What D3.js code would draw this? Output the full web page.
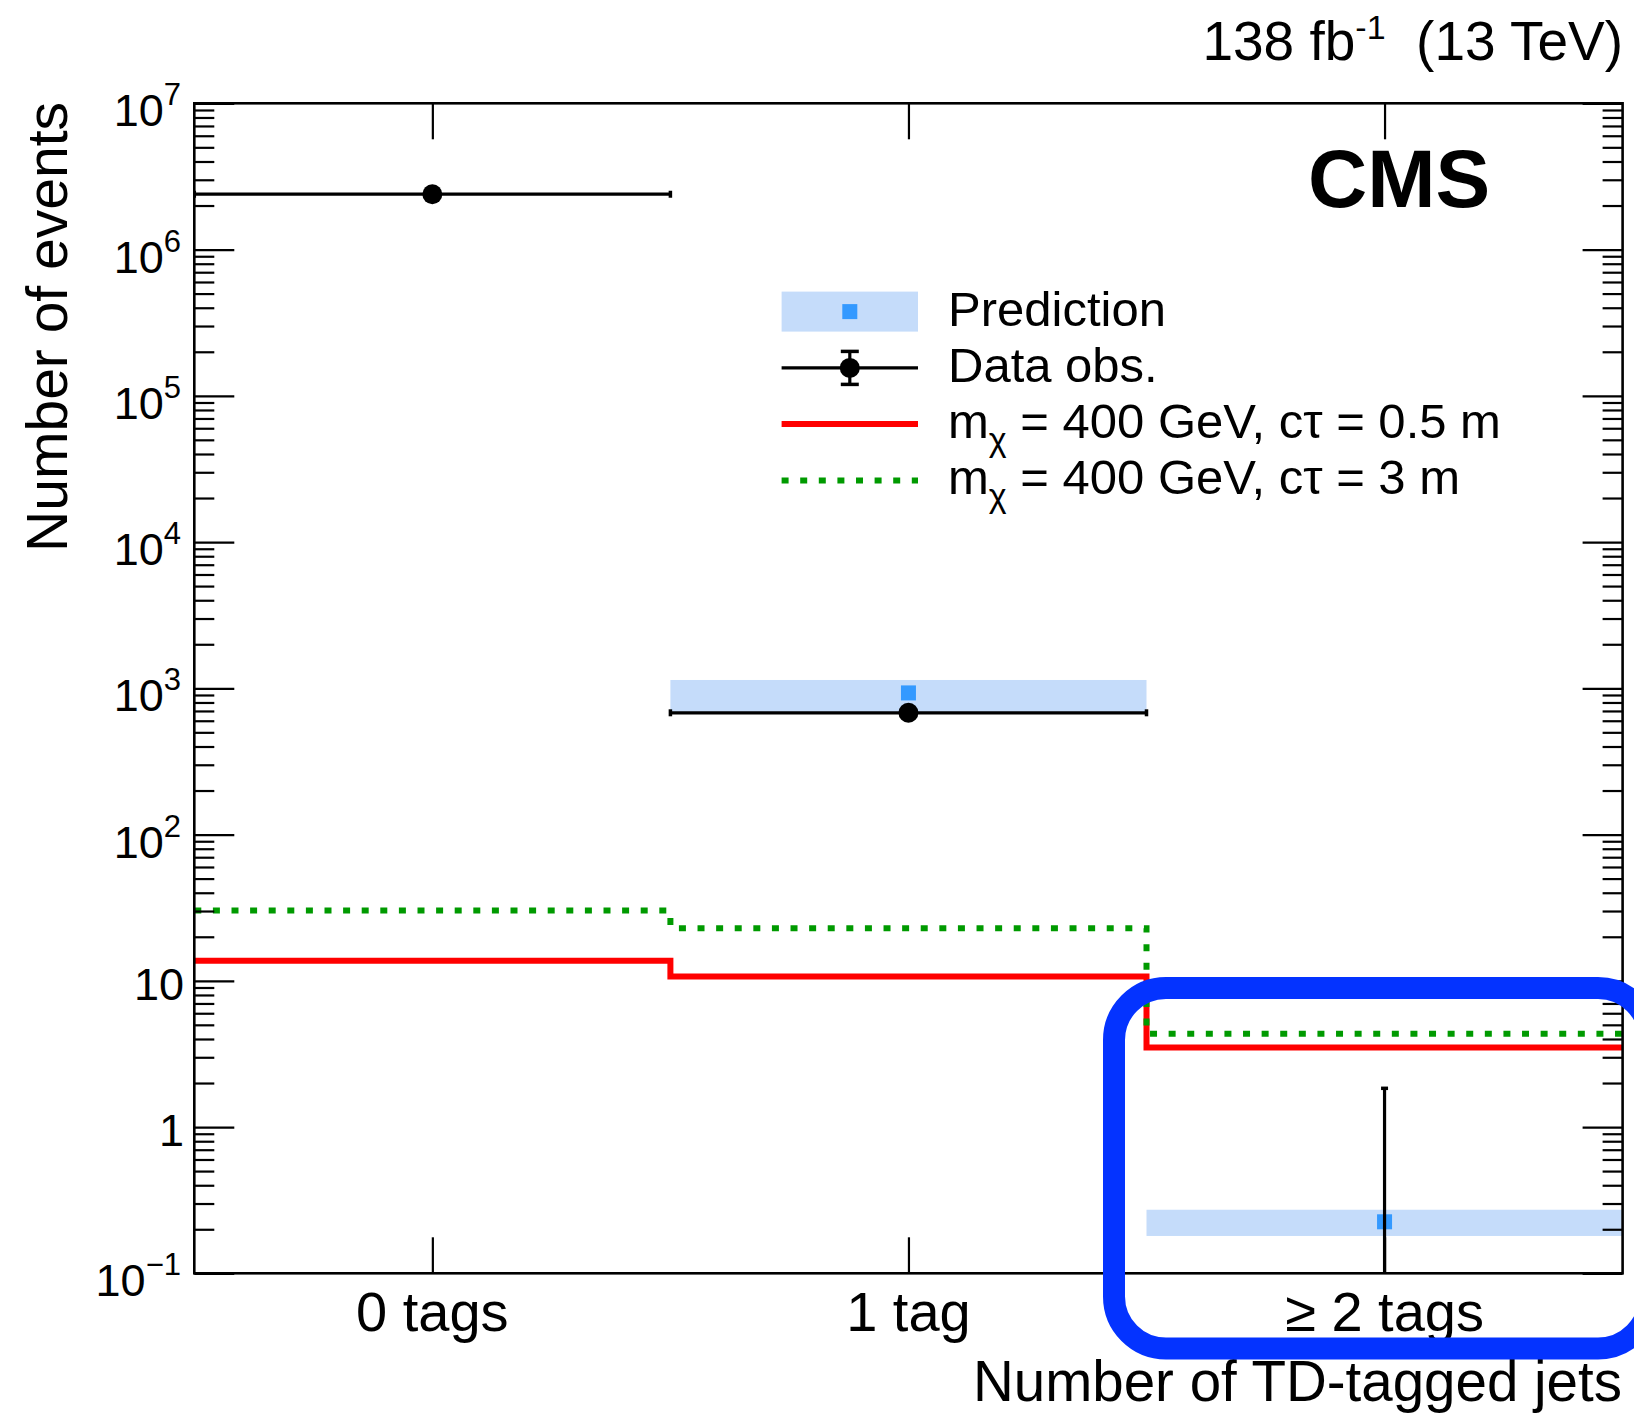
<!DOCTYPE html>
<html>
<head>
<meta charset="utf-8">
<script src="https://cdn.jsdelivr.net/npm/d3@7"></script>
<style>
  html, body { margin: 0; padding: 0; background: #fff; }
  svg { display: block; }
  text { font-family: "Liberation Sans", Arial, Helvetica, sans-serif; fill: #000; }
</style>
</head>
<body>
<svg id="chart" width="1634" height="1417"></svg>
<script>
// ---- data -------------------------------------------------------------
const categories = ["0 tags", "1 tag", "\u2265 2 tags"];

// observed events per bin, with asymmetric (Poisson) uncertainties
const dataObs    = [2390000, 680, 0];
const dataErrLo  = [1546, 26, 0];
const dataErrHi  = [1546, 26, 1.84];

// background prediction (no prediction in the 0-tag control bin)
const predicted  = [null, 930, 0.225];
const predLow    = [null, 690, 0.18];
const predHigh   = [null, 1140, 0.272];

// signal expectations, m_chi = 400 GeV
const sigCt05 = [13.7, 10.7, 3.5];   // c*tau = 0.5 m
const sigCt3  = [30.2, 22.9, 4.35];  // c*tau = 3 m

const yMajorTicks = [0.1, 1, 10, 1e2, 1e3, 1e4, 1e5, 1e6, 1e7];
const yTickLabels = [["10", "\u22121"], ["1", null], ["10", null], ["10", "2"], ["10", "3"],
                     ["10", "4"], ["10", "5"], ["10", "6"], ["10", "7"]];

// ---- layout -----------------------------------------------------------
const svg = d3.select("#chart");
const frame = { left: 194.3, right: 1622.6, top: 103.3, bottom: 1273.3 };

const x = d3.scaleBand().domain(categories).range([frame.left, frame.right]).padding(0);
const y = d3.scaleLog().domain([0.1, 1e7]).range([frame.bottom, frame.top]);

const colRed = "#ff0000", colGreen = "#009a00", colBand = "#c5dcfa", colPred = "#3399ff";

const g = svg.append("g");

// clip everything to the frame
svg.append("defs").append("clipPath").attr("id", "plotclip")
  .append("rect").attr("x", frame.left).attr("y", frame.top)
  .attr("width", frame.right - frame.left).attr("height", frame.bottom - frame.top);
const plot = g.append("g").attr("clip-path", "url(#plotclip)");

// ---- prediction bands and markers ---------------------------------------
const predIdx = d3.range(categories.length).filter(i => predicted[i] != null);
plot.selectAll("rect.band").data(predIdx).join("rect")
  .attr("class", "band")
  .attr("x", i => x(categories[i]))
  .attr("width", x.bandwidth())
  .attr("y", i => y(predHigh[i]))
  .attr("height", i => y(predLow[i]) - y(predHigh[i]))
  .attr("fill", colBand);
plot.selectAll("rect.pred").data(predIdx).join("rect")
  .attr("class", "pred")
  .attr("x", i => x(categories[i]) + x.bandwidth() / 2 - 7.5)
  .attr("y", i => y(predicted[i]) - 7.5)
  .attr("width", 15).attr("height", 15)
  .attr("fill", colPred);

// ---- observed data ------------------------------------------------------
const dataIdx = d3.range(categories.length);
const yc = v => (v > 0 ? y(v) : frame.bottom + 20);
// horizontal bin-width bars (only where the point is inside the range)
dataIdx.filter(i => dataObs[i] > 0).forEach(i => {
  const x0 = x(categories[i]), x1 = x0 + x.bandwidth(), yy = y(dataObs[i]);
  plot.append("line").attr("x1", x0).attr("x2", x1).attr("y1", yy).attr("y2", yy)
    .attr("stroke", "#000").attr("stroke-width", 3.2);
  [x0, x1].forEach(xx => plot.append("line").attr("x1", xx).attr("x2", xx)
    .attr("y1", yy - 3.5).attr("y2", yy + 3.5).attr("stroke", "#000").attr("stroke-width", 3.5));
});
// vertical error bars
dataIdx.forEach(i => {
  const xm = x(categories[i]) + x.bandwidth() / 2;
  const lo = dataObs[i] - dataErrLo[i], hi = dataObs[i] + dataErrHi[i];
  plot.append("line").attr("x1", xm).attr("x2", xm)
    .attr("y1", yc(lo)).attr("y2", y(hi)).attr("stroke", "#000").attr("stroke-width", 3.2);
  plot.append("line").attr("x1", xm - 3.5).attr("x2", xm + 3.5)
    .attr("y1", y(hi)).attr("y2", y(hi)).attr("stroke", "#000").attr("stroke-width", 3.5);
});
plot.selectAll("circle.obs").data(dataIdx.filter(i => dataObs[i] > 0)).join("circle")
  .attr("class", "obs")
  .attr("cx", i => x(categories[i]) + x.bandwidth() / 2)
  .attr("cy", i => y(dataObs[i]))
  .attr("r", 10).attr("fill", "#000");

// ---- signal histograms (step outlines) ----------------------------------
function stepPoints(vals) {
  const pts = [];
  vals.forEach((v, i) => {
    const x0 = x(categories[i]), x1 = x0 + x.bandwidth();
    pts.push([x0, y(v)], [x1, y(v)]);
  });
  return pts;
}
const line = d3.line();
plot.append("path").attr("d", line(stepPoints(sigCt05)))
  .attr("fill", "none").attr("stroke", colRed).attr("stroke-width", 6);
plot.append("path").attr("d", line(stepPoints(sigCt3)))
  .attr("fill", "none").attr("stroke", colGreen).attr("stroke-width", 6)
  .attr("stroke-dasharray", "7,11.6");

// ---- axes (ROOT style: ticks inside the frame) --------------------------
const minorTicks = [];
for (let e = -1; e < 7; e++) for (let k = 2; k <= 9; k++) minorTicks.push(k * Math.pow(10, e));

function styleAxis(sel) {
  sel.select(".domain").remove();
  sel.selectAll(".tick line").attr("stroke", "#000").attr("stroke-width", 2.2);
  sel.selectAll(".tick text").remove();
}
const axL = g.append("g").attr("transform", `translate(${frame.left},0)`);
axL.call(d3.axisLeft(y).tickValues(yMajorTicks).tickSize(-40).tickFormat(() => "")).call(styleAxis);
g.append("g").attr("transform", `translate(${frame.left},0)`)
  .call(d3.axisLeft(y).tickValues(minorTicks).tickSize(-20).tickFormat(() => "")).call(styleAxis);
g.append("g").attr("transform", `translate(${frame.right},0)`)
  .call(d3.axisRight(y).tickValues(yMajorTicks).tickSize(-40).tickFormat(() => "")).call(styleAxis);
g.append("g").attr("transform", `translate(${frame.right},0)`)
  .call(d3.axisRight(y).tickValues(minorTicks).tickSize(-20).tickFormat(() => "")).call(styleAxis);

const xc = d3.scalePoint().domain(categories)
  .range([x(categories[0]) + x.bandwidth() / 2, x(categories[2]) + x.bandwidth() / 2]);
const axB = g.append("g").attr("transform", `translate(0,${frame.bottom})`);
axB.call(d3.axisBottom(xc).tickSize(-36)).call(styleAxis);
g.append("g").attr("transform", `translate(0,${frame.top})`)
  .call(d3.axisTop(xc).tickSize(-36)).call(styleAxis);

// y tick labels: 10^n with superscripts
yMajorTicks.forEach((v, i) => {
  const [base, sup] = yTickLabels[i];
  const t = g.append("text").attr("text-anchor", "end")
    .attr("x", sup ? 181 : 184).attr("y", y(v) + (sup ? 23 : 19)).attr("font-size", 45);
  t.append("tspan").text(base);
  if (sup) t.append("tspan").attr("dy", -21).attr("font-size", 31).text(sup);
});

// x tick labels
categories.forEach(c => {
  g.append("text").attr("text-anchor", "middle").attr("font-size", 56)
    .attr("x", xc(c)).attr("y", 1331).text(c);
});

// frame
g.append("rect").attr("x", frame.left).attr("y", frame.top)
  .attr("width", frame.right - frame.left).attr("height", frame.bottom - frame.top)
  .attr("fill", "none").attr("stroke", "#000").attr("stroke-width", 2.6);

// axis titles
g.append("text").attr("text-anchor", "end").attr("font-size", 56.5)
  .attr("x", 1622).attr("y", 1401).text("Number of TD-tagged jets");
g.append("text").attr("text-anchor", "end").attr("font-size", 57)
  .attr("transform", "translate(67,102) rotate(-90)").text("Number of events");

// header
const lumi = g.append("text").attr("text-anchor", "end").attr("font-size", 55)
  .attr("x", 1623).attr("y", 60);
lumi.append("tspan").text("138 fb");
lumi.append("tspan").attr("font-size", 34).attr("dy", -21).text("-1");
lumi.append("tspan").attr("dy", 21).text("\u00a0 (13 TeV)");

g.append("text").attr("font-size", 82).attr("font-weight", "bold")
  .attr("x", 1308).attr("y", 207).text("CMS");

// ---- legend -------------------------------------------------------------
const leg = g.append("g");
const legX0 = 781.6, legX1 = 918, legTextX = 948, legFont = 49;
const rows = [311.6, 367.9, 424.1, 480.4];
const legLabels = ["Prediction", "Data obs."];
// prediction entry
leg.append("rect").attr("x", legX0).attr("y", rows[0] - 20).attr("width", legX1 - legX0)
  .attr("height", 40).attr("fill", colBand);
leg.append("rect").attr("x", (legX0 + legX1) / 2 - 7.5).attr("y", rows[0] - 7.5)
  .attr("width", 15).attr("height", 15).attr("fill", colPred);
// data entry
leg.append("line").attr("x1", legX0).attr("x2", legX1).attr("y1", rows[1]).attr("y2", rows[1])
  .attr("stroke", "#000").attr("stroke-width", 3.2);
const lxm = (legX0 + legX1) / 2;
leg.append("line").attr("x1", lxm).attr("x2", lxm).attr("y1", rows[1] - 16.5).attr("y2", rows[1] + 16.5)
  .attr("stroke", "#000").attr("stroke-width", 3.2);
[-16.5, 16.5].forEach(d => leg.append("line").attr("x1", lxm - 9).attr("x2", lxm + 9)
  .attr("y1", rows[1] + d).attr("y2", rows[1] + d).attr("stroke", "#000").attr("stroke-width", 3.5));
leg.append("circle").attr("cx", lxm).attr("cy", rows[1]).attr("r", 10).attr("fill", "#000");
// signal entries
leg.append("line").attr("x1", legX0).attr("x2", legX1).attr("y1", rows[2]).attr("y2", rows[2])
  .attr("stroke", colRed).attr("stroke-width", 6);
leg.append("line").attr("x1", legX0).attr("x2", legX1).attr("y1", rows[3]).attr("y2", rows[3])
  .attr("stroke", colGreen).attr("stroke-width", 6).attr("stroke-dasharray", "7,11.6");

legLabels.forEach((s, i) => leg.append("text").attr("font-size", legFont)
  .attr("x", legTextX).attr("y", rows[i] + 14).text(s));
[["0.5"], ["3"]].forEach(([ct], k) => {
  const t = leg.append("text").attr("font-size", legFont)
    .attr("x", legTextX).attr("y", rows[2 + k] + 14);
  t.append("tspan").text("m");
  t.append("tspan").attr("font-size", 34).attr("dy", 13).text("\u03c7");
  t.append("tspan").attr("dy", -13).text(` = 400 GeV, c\u03c4 = ${ct} m`);
});

// ---- highlight around the >=2 tags bin ----------------------------------
svg.append("rect").attr("x", 1114).attr("y", 988).attr("width", 536).attr("height", 360.5)
  .attr("rx", 52).attr("ry", 52)
  .attr("fill", "none").attr("stroke", "#0433ff").attr("stroke-width", 22);
</script>
</body>
</html>
